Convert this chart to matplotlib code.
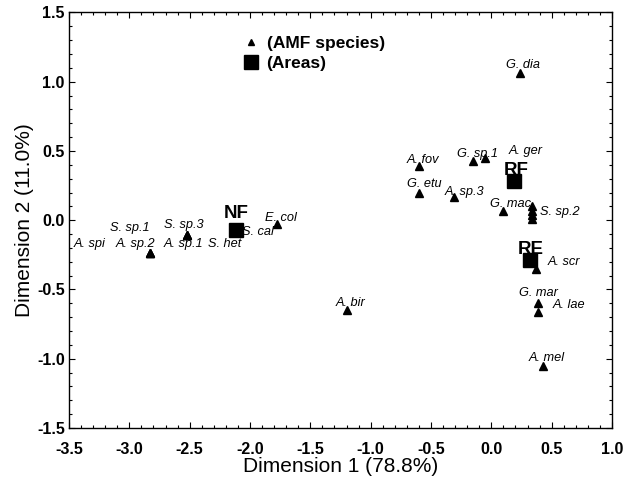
import matplotlib
matplotlib.use("Agg")
import matplotlib.pyplot as plt
from matplotlib.lines import Line2D
from matplotlib.ticker import MultipleLocator

plt.rcParams['font.family'] = ['Liberation Sans', 'DejaVu Sans']

# AMF species coordinates (Dimension 1, Dimension 2)
species = ["A. spi", "A. sp.2", "S. sp.1", "S. sp.3", "A. sp.1", "S. het", "S. cal",
           "E. col", "A. bir", "A. fov", "G. sp.1", "A. ger", "G. etu", "A. sp.3",
           "G. mac", "", "", "S. sp.2", "", "A. scr", "G. mar", "A. lae", "A. mel", "G. dia"]
sp_x = [-2.83, -2.83, -2.83, -2.52, -2.52, -2.52, -2.10,
        -1.78, -1.20, -0.60, -0.15, -0.05, -0.60, -0.31,
        0.10, 0.34, 0.34, 0.34, 0.34, 0.37, 0.39, 0.39, 0.43, 0.24]
sp_y = [-0.24, -0.24, -0.24, -0.11, -0.11, -0.11, -0.08,
        -0.03, -0.65, 0.39, 0.43, 0.45, 0.20, 0.17,
        0.07, 0.10, 0.07, 0.04, 0.01, -0.35, -0.60, -0.66, -1.05, 1.06]

# Areas
areas = ["NF", "RF", "RE"]
area_x = [-2.12, 0.19, 0.32]
area_y = [-0.07, 0.28, -0.29]

x_ticks = [-3.5, -3.0, -2.5, -2.0, -1.5, -1.0, -0.5, 0.0, 0.5, 1.0]
y_ticks = [-1.5, -1.0, -0.5, 0.0, 0.5, 1.0, 1.5]

# label offsets in pixels (layout only)
sp_off = [(-60, 9), (-14, 9), (-20, 25), (-3, 10), (-4, -9), (37, -9), (20, -1),
          (4, 6), (4, 7), (4, 6), (4, 7), (40, 7), (5, 9), (11, 5),
          (7, 7), (0, 0), (0, 0), (27, 3), (0, 0), (28, 7), (0, 10), (31, 7), (3, 8), (3, 8)]
area_off = [(1, 16), (2, 11), (1, 11)]

fig = plt.figure(figsize=(6.34, 4.82), dpi=100)
ax = fig.add_axes([69/634, 1 - 428/482, 543/634, 415.5/482])

ax.plot(sp_x, sp_y, linestyle='none', marker='^', color='black', markersize=6.3, zorder=3)
ax.plot(area_x, area_y, linestyle='none', marker='s', color='black', markersize=9.5, zorder=4)

for name, x, y, off in zip(species, sp_x, sp_y, sp_off):
    if name:
        ax.annotate(name, (x, y), xytext=off, textcoords='offset pixels',
                    ha='center', va='center', fontsize=9.2, style='italic', zorder=5)
for name, x, y, off in zip(areas, area_x, area_y, area_off):
    ax.annotate(name, (x, y), xytext=off, textcoords='offset pixels',
                ha='center', va='center', fontsize=13.5, fontweight='bold', zorder=5)

ax.set_xlim(-3.5, 1.0)
ax.set_ylim(-1.5, 1.5)
ax.set_xticks(x_ticks)
ax.set_yticks(y_ticks)
ax.set_xticklabels([f"{v:.1f}" for v in x_ticks])
ax.set_yticklabels([f"{v:.1f}" for v in y_ticks])
ax.xaxis.set_minor_locator(MultipleLocator(0.1))
ax.yaxis.set_minor_locator(MultipleLocator(0.1))
ax.tick_params(which='both', direction='in', top=True, right=True, width=0.8)
ax.tick_params(which='major', length=4, labelsize=11.5)
ax.tick_params(axis='x', which='major', pad=10)
ax.tick_params(axis='y', which='major', pad=3)
ax.tick_params(which='minor', length=2.5)
for lab in ax.get_xticklabels() + ax.get_yticklabels():
    lab.set_fontweight('bold')
for s in ax.spines.values():
    s.set_linewidth(1.0)

ax.set_xlabel("Dimension 1 (78.8%)", fontsize=15, labelpad=0)
ax.set_ylabel("Dimension 2 (11.0%)", fontsize=15, labelpad=2)

handles = [Line2D([], [], linestyle='none', marker='^', color='black', markersize=5),
           Line2D([], [], linestyle='none', marker='s', color='black', markersize=9.5)]
ax.legend(handles, ["(AMF species)", "(Areas)"], loc='upper left',
          bbox_to_anchor=(0.300, 0.965), frameon=False, borderpad=0, handlelength=1.2,
          handletextpad=0.3, labelspacing=0.3, prop={'weight': 'bold', 'size': 12.5})

fig.savefig("out.png", dpi=100)
